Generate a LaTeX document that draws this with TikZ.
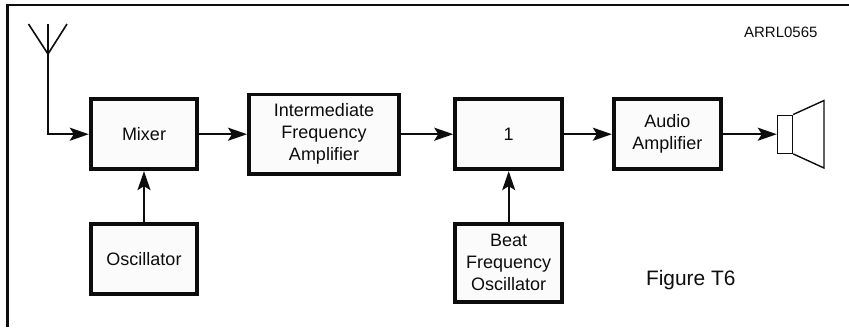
\documentclass[tikz,border=0pt]{standalone}
\usepackage{fontspec}
\setmainfont{Liberation Sans}
\usetikzlibrary{arrows.meta}
\definecolor{inkblack}{rgb}{0.05, 0.05, 0.05}
\definecolor{boxfill}{rgb}{0.985, 0.985, 0.985}
\tikzset{
    blockbox/.style={draw=inkblack, line width=3.9pt, fill=boxfill, align=center, inner sep=0pt, text=inkblack, font=\fontsize{18}{22}\selectfont},
    sigline/.style={draw=inkblack, line width=1.9pt},
    sigarrow/.style={sigline, -{Stealth[length=19pt, width=13pt, inset=4pt]}},
    plainlabel/.style={text=inkblack, inner sep=0pt}
}

\begin{document}
\begin{tikzpicture}[x=1pt, y=-1pt]
                \useasboundingbox (0,0) rectangle (849,327);

                % Frame
                \draw[inkblack, line width=2.4pt] (7.5,327) -- (7.5,5) -- (849,5);

                % Blocks
                \node[blockbox, minimum width=106.5pt, minimum height=70pt] (mixer) at (144,134.2) {Mixer};
                \node[blockbox, minimum width=150pt, minimum height=79.5pt] (ifamp) at (324,134.2) {Intermediate\\Frequency\\Amplifier};
                \node[blockbox, minimum width=106.5pt, minimum height=70pt] (osc) at (144,259) {Oscillator};
                \node[blockbox, minimum width=107pt, minimum height=70pt] (detector) at (508.7,134.2) {1};
                \node[blockbox, minimum width=107pt, minimum height=70pt] (audio) at (667.3,134.2) {Audio\\Amplifier};
                \node[blockbox, minimum width=107pt, minimum height=77.5pt] (bfo) at (508.7,262.8) {Beat\\Frequency\\Oscillator};

                % Antenna
                \coordinate (antfoot) at (48,54);
                \draw[sigline, line width=1.6pt] (28.5,24) -- (antfoot) -- (67,24);
                \draw[sigline, line width=1.6pt] (48,24) -- (antfoot);
                \draw[sigarrow] (antfoot) |- (mixer);

                % Speaker
                \node[draw=inkblack, line width=1.4pt, fill=white, minimum width=15pt, minimum height=38pt, inner sep=0pt] (speaker) at (785,134.2) {};
                \draw[inkblack, line width=1.4pt] (speaker.north east) -- (824,100.5) -- (824,168) -- (speaker.south east);

                % Signal path
                \draw[sigarrow] (mixer) -- (ifamp);
                \draw[sigarrow] (ifamp) -- (detector);
                \draw[sigarrow] (detector) -- (audio);
                \draw[sigarrow] (audio) -- (speaker);
                \draw[sigarrow] (osc) -- (mixer);
                \draw[sigarrow] (bfo) -- (detector);

                % Labels
                \node[plainlabel, font=\fontsize{15}{18}\selectfont] (partno) at (780.8,32.7) {ARRL0565};
                \node[plainlabel, font=\fontsize{20.9}{25}\selectfont] (figlabel) at (690.8,280) {Figure T6};
            \end{tikzpicture}
\end{document}
